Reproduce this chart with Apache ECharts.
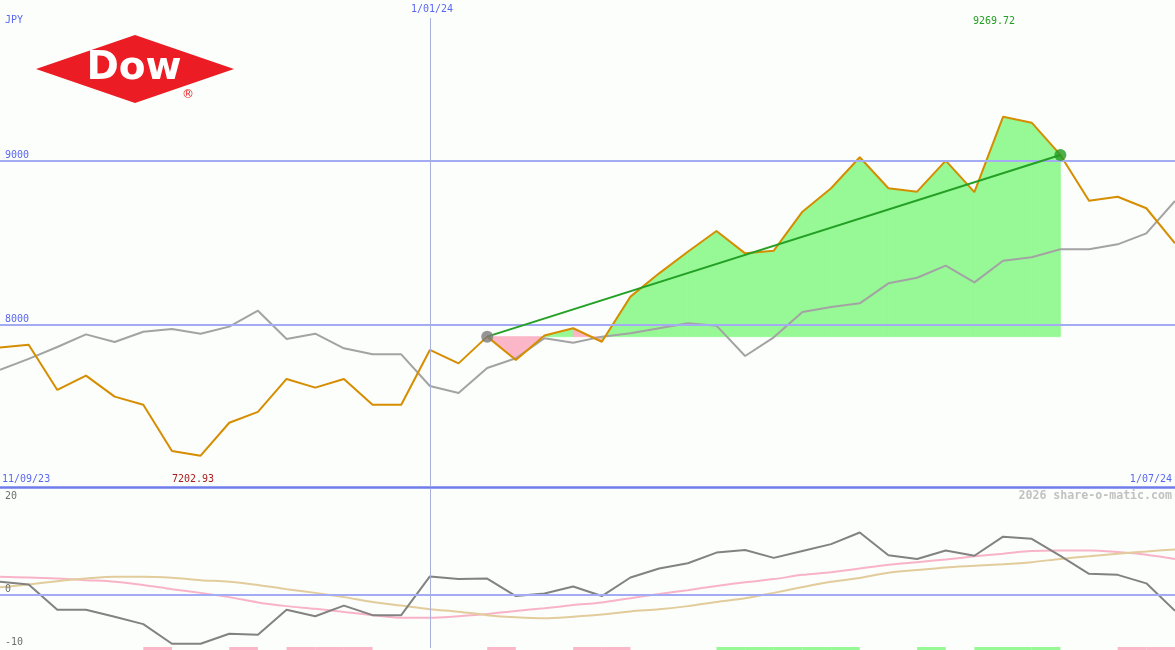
<!DOCTYPE html>
<html><head><meta charset="utf-8">
<script src="https://cdn.jsdelivr.net/npm/echarts@6/dist/echarts.min.js"></script>
<style>html,body{margin:0;padding:0;background:#fbfefb;overflow:hidden}#c{width:1175px;height:650px}</style>
</head><body><div id="c"></div>
<script>
// ---- data ----
const dates = ['18/09/23','25/09/23','2/10/23','9/10/23','16/10/23','23/10/23','30/10/23','6/11/23','13/11/23','20/11/23','27/11/23','4/12/23','11/12/23','18/12/23','25/12/23','1/01/24','8/01/24','15/01/24','22/01/24','29/01/24','5/02/24','12/02/24','19/02/24','26/02/24','4/03/24','11/03/24','18/03/24','25/03/24','1/04/24','8/04/24','15/04/24','22/04/24','29/04/24','6/05/24','13/05/24','20/05/24','27/05/24','3/06/24','10/06/24','17/06/24','24/06/24','1/07/24'];
const price = [7862,7880,7604,7691,7563,7514,7232,7202.93,7404,7470,7671,7618,7671,7514,7514,7848,7766,7929,7787,7936,7980,7898,8173,8315,8447,8573,8437,8453,8691,8834,9023,8834,8813,9002,8810,9269.72,9234,9037,8758,8782,8712,8498];
const average = [7726,7793,7866,7943,7896,7959,7976,7947,7990,8087,7915,7947,7858,7821,7821,7628,7585,7738,7797,7919,7892,7929,7949,7980,8010,7996,7811,7925,8079,8110,8132,8254,8288,8362,8260,8392,8413,8462,8462,8492,8559,8756];
const oscillator = [2.5,2.0,-2.8,-2.8,-4.1,-5.5,-9.2,-9.2,-7.3,-7.5,-2.8,-4.0,-2.0,-3.8,-3.8,3.5,3.0,3.1,-0.2,0.3,1.6,-0.2,3.3,5.0,6.0,8.0,8.5,7.0,8.3,9.6,11.8,7.5,6.8,8.4,7.4,11.0,10.6,7.4,4.0,3.8,2.2,-3.0];
const oscPink = [3.45,3.3,3.1,2.8,2.5,1.9,1.1,0.4,-0.4,-1.4,-2.1,-2.6,-3.2,-3.8,-4.3,-4.3,-4.0,-3.6,-3.0,-2.5,-1.9,-1.4,-0.6,0.2,0.9,1.7,2.4,3.0,3.8,4.3,5.0,5.7,6.2,6.7,7.3,7.8,8.3,8.4,8.4,8.1,7.6,6.8];
const oscTan = [1.45,2.0,2.6,3.1,3.45,3.45,3.25,2.8,2.5,1.9,1.1,0.4,-0.4,-1.3,-2.0,-2.7,-3.15,-3.8,-4.2,-4.4,-4.1,-3.7,-3.1,-2.7,-2.1,-1.3,-0.6,0.4,1.5,2.5,3.2,4.2,4.7,5.2,5.5,5.8,6.2,6.8,7.3,7.8,8.2,8.6];
// signal per segment (i -> i+1): 0 none, 1 negative (pink), 2 positive (green)
const signals = [0,0,0,0,0,1,0,0,1,0,1,1,1,0,0,0,0,1,0,0,1,1,0,0,0,2,2,2,2,2,0,0,2,0,2,2,2,0,0,1,1];
const trendStart = 17, trendEnd = 37;
const negativeFillSegments = [17,18,20];
const priceLevels = [8000, 9000];
const priceTickLabels = ['9000','8000'];
const oscTickLabels = ['20','0','-10'];
const dateLabels = ['11/09/23','1/01/24','1/07/24'];
const markerDate = '1/01/24';
const currency = 'JPY';
const maxLabel = '9269.72', minLabel = '7202.93';
const watermark = '2026 share-o-matic.com';

// ---- derived ----
const base = price[trendStart];
const fillData = [];
for (let i = trendStart; i < trendEnd; i++) {
  fillData.push([i, price[i], price[i+1], negativeFillSegments.indexOf(i) >= 0 ? 1 : 0]);
}
const barData = [];
signals.forEach((s, i) => { if (s) barData.push([i, s]); });

const BG = '#fbfefb', BLUE = '#a3abf2', TXT_BLUE = '#5a68f0';
const FONT = '"DejaVu Sans Mono", monospace';
const GREEN_FILL = '#96f996', PINK_FILL = '#fbb6c8';

const chart = echarts.init(document.getElementById('c'), null, {renderer: 'canvas'});

const txt = (x, y, text, color, opts) => ({
  type: 'text', x: x, y: y, z: 100,
  style: Object.assign({text: text, fill: color, font: '10px ' + FONT, textAlign: 'left', textVerticalAlign: 'middle'}, opts || {})
});

chart.setOption({
  backgroundColor: BG,
  animation: false,
  grid: [
    {left: 0, right: 0, top: 0, height: 487},
    {left: 0, right: 0, top: 489, height: 159}
  ],
  xAxis: [
    {gridIndex: 0, type: 'category', data: dates, boundaryGap: false,
     axisLine: {show: true, onZero: false, lineStyle: {color: '#6f7dec', width: 2.5}},
     axisTick: {show: false}, axisLabel: {show: false}, splitLine: {show: false}},
    {gridIndex: 1, type: 'category', data: dates, boundaryGap: false,
     axisLine: {show: false}, axisTick: {show: false}, axisLabel: {show: false}, splitLine: {show: false}}
  ],
  yAxis: [
    {gridIndex: 0, type: 'value', min: 7012, max: 9982, show: false, splitLine: {show: false}},
    {gridIndex: 1, type: 'value', min: -10, max: 20, show: false, splitLine: {show: false}}
  ],
  series: [
    {type: 'line', xAxisIndex: 0, yAxisIndex: 0, data: [], z: 1, silent: true,
     markLine: {symbol: 'none', silent: true, label: {show: false},
       data: priceLevels.map(v => ({yAxis: v, lineStyle: {color: BLUE, width: 2, type: 'solid'}}))
         .concat([{xAxis: markerDate, lineStyle: {color: '#aab0dc', width: 1, type: 'solid'}}])}},
    {type: 'custom', xAxisIndex: 0, yAxisIndex: 0, z: 2, silent: true, data: fillData,
     encode: {x: 0, y: [1, 2]},
     renderItem: function (params, api) {
       const i = api.value(0);
       const a = api.value(1), b = api.value(2), neg = api.value(3);
       const p0 = api.coord([i, base]), p1 = api.coord([i, a]), p2 = api.coord([i + 1, b]), p3 = api.coord([i + 1, base]);
       const c = neg ? PINK_FILL : GREEN_FILL;
       return {type: 'polygon', shape: {points: [p0, p1, p2, p3]}, style: {fill: c, stroke: c, lineWidth: 0.8}};
     }},
    {type: 'line', name: 'average', xAxisIndex: 0, yAxisIndex: 0, data: average, z: 3, symbol: 'none',
     lineStyle: {color: '#a3a3a3', width: 2}},
    {type: 'line', name: 'price', xAxisIndex: 0, yAxisIndex: 0, data: price, z: 4, symbol: 'none',
     lineStyle: {color: '#d68d00', width: 2}},
    {type: 'line', name: 'trend', xAxisIndex: 0, yAxisIndex: 0, z: 5, symbol: 'none',
     data: [[trendStart, price[trendStart]], [trendEnd, price[trendEnd]]],
     lineStyle: {color: '#24a024', width: 2}},
    {type: 'scatter', xAxisIndex: 0, yAxisIndex: 0, z: 6, symbolSize: 12,
     data: [
       {value: [trendStart, price[trendStart]], itemStyle: {color: '#7a7a7a'}},
       {value: [trendEnd, price[trendEnd]], itemStyle: {color: '#229a22'}}
     ]},
    {type: 'line', xAxisIndex: 1, yAxisIndex: 1, data: [], z: 1, silent: true,
     markLine: {symbol: 'none', silent: true, label: {show: false},
       data: [{yAxis: 0, lineStyle: {color: BLUE, width: 2, type: 'solid'}},
              {xAxis: markerDate, lineStyle: {color: '#aab0dc', width: 1, type: 'solid'}}]}},
    {type: 'line', name: 'oscPink', xAxisIndex: 1, yAxisIndex: 1, data: oscPink, z: 3, symbol: 'none', smooth: 0.3,
     lineStyle: {color: '#f9b3c8', width: 2}},
    {type: 'line', name: 'oscTan', xAxisIndex: 1, yAxisIndex: 1, data: oscTan, z: 3, symbol: 'none', smooth: 0.3,
     lineStyle: {color: '#e2cc9c', width: 2}},
    {type: 'line', name: 'oscillator', xAxisIndex: 1, yAxisIndex: 1, data: oscillator, z: 4, symbol: 'none',
     lineStyle: {color: '#828282', width: 2}},
    {type: 'custom', xAxisIndex: 1, yAxisIndex: 1, z: 5, silent: true, data: barData,
     encode: {x: 0},
     renderItem: function (params, api) {
       const i = api.value(0), s = api.value(1);
       const a = api.coord([i, -10]), b = api.coord([i + 1, -10]);
       return {type: 'rect', shape: {x: a[0], y: a[1] - 1, width: b[0] - a[0], height: 3},
               style: {fill: s === 1 ? '#fbb6c8' : '#96f996'}};
     }}
  ],
  graphic: [
    {type: 'polygon', z: 50, shape: {points: [[36, 69], [135, 35], [234, 69], [135, 103]]}, style: {fill: '#ec1c24'}},
    {type: 'text', z: 51, x: 134, y: 69, style: {text: 'Dow', fill: '#ffffff', font: 'bold 39px "DejaVu Sans"', textAlign: 'center', textVerticalAlign: 'middle'}},
    {type: 'text', z: 51, x: 188, y: 95, style: {text: '®', fill: '#ec1c24', font: '12px "DejaVu Sans"', textAlign: 'center', textVerticalAlign: 'middle'}},
    txt(5, 20, currency, TXT_BLUE),
    txt(432, 9, dateLabels[1], TXT_BLUE, {textAlign: 'center', backgroundColor: BG, padding: [4, 2, 4, 2]}),
    txt(994, 21, maxLabel, '#22a022', {textAlign: 'center'}),
    txt(5, 155, priceTickLabels[0], TXT_BLUE),
    txt(5, 319, priceTickLabels[1], TXT_BLUE),
    txt(2, 479, dateLabels[0], TXT_BLUE),
    txt(193, 479, minLabel, '#a81e1e', {textAlign: 'center'}),
    txt(1172, 479, dateLabels[2], TXT_BLUE, {textAlign: 'right'}),
    txt(1172, 496, watermark, '#c2c2c2', {textAlign: 'right', font: 'bold 11.6px ' + FONT}),
    txt(5, 496, oscTickLabels[0], '#6e6e6e'),
    txt(5, 589, oscTickLabels[1], '#6e6e6e'),
    txt(5, 642, oscTickLabels[2], '#6e6e6e')
  ]
});
</script></body></html>
